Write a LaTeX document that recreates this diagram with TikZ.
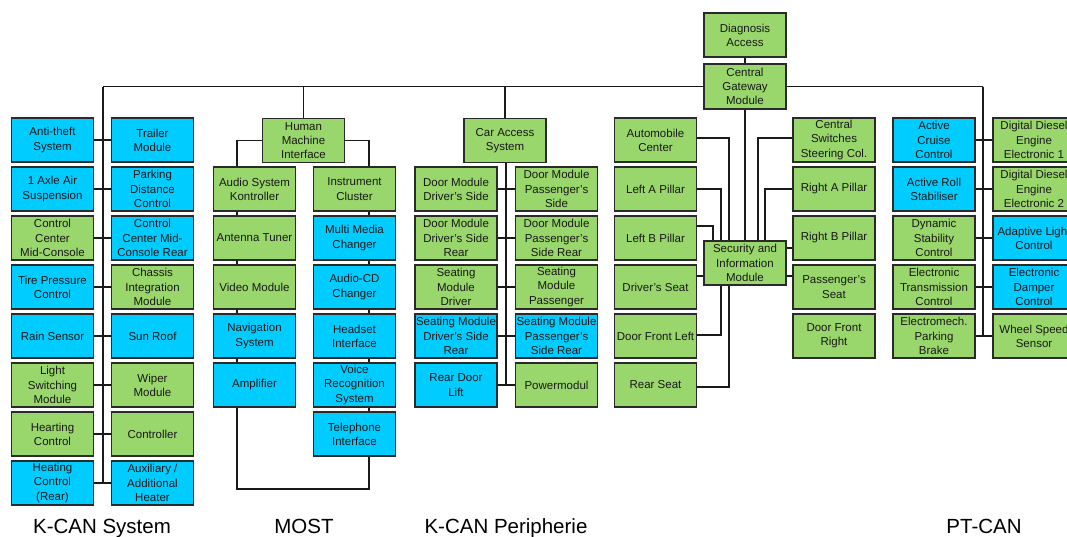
\documentclass[tikz,border=0pt]{standalone}
\usepackage{fontspec}
\setmainfont{Liberation Sans}
\definecolor{grn}{HTML}{99D66B}
\definecolor{blu}{HTML}{00CCFF}
\definecolor{edge}{HTML}{2A2A2A}
\definecolor{wire}{HTML}{1A1A1A}
\begin{document}
\begin{tikzpicture}[x=1pt,y=-1pt,
  box/.style={draw=edge, line width=1.1pt, minimum width=82pt, minimum height=44pt,
    inner sep=0pt, align=center, text=black!90, font=\fontsize{11.5}{14.2}\selectfont},
  gbox/.style={box, fill=grn},
  bbox/.style={box, fill=blu},
  wirestyle/.style={draw=wire, line width=1.2pt},
  lbl/.style={anchor=base, font=\fontsize{20.5}{22}\selectfont, inner sep=0pt}]
\useasboundingbox (0,0) rectangle (1067,536);
\clip (0,0) rectangle (1067,536);

% ---- top
\node[gbox] (diag) at (745,35) {Diagnosis\\Access};
\node[gbox, minimum height=45pt] (gw) at (745,86.5) {Central\\Gateway\\Module};
\coordinate (busL) at (103,86.5);
\coordinate (busR) at (983,86.5);

% ---- K-CAN System
\node[bbox] (k1l) at (52.5,140) {Anti-theft\\System};
\node[bbox] (k1r) at (152.5,140) {Trailer\\Module};
\node[bbox] (k2l) at (52.5,189) {1 Axle Air\\Suspension};
\node[bbox] (k2r) at (152.5,189) {Parking\\Distance\\Control};
\node[gbox] (k3l) at (52.5,238) {Control\\Center\\Mid-Console};
\node[bbox] (k3r) at (152.5,238) {Control\\Center Mid-\\Console Rear};
\node[bbox] (k4l) at (52.5,287) {Tire Pressure\\Control};
\node[gbox] (k4r) at (152.5,287) {Chassis\\Integration\\Module};
\node[bbox] (k5l) at (52.5,336) {Rain Sensor};
\node[bbox] (k5r) at (152.5,336) {Sun Roof};
\node[gbox] (k6l) at (52.5,385) {Light\\Switching\\Module};
\node[gbox] (k6r) at (152.5,385) {Wiper\\Module};
\node[gbox] (k7l) at (52.5,434) {Hearting\\Control};
\node[gbox] (k7r) at (152.5,434) {Controller};
\node[bbox] (k8l) at (52.5,483) {Heating\\Control\\(Rear)};
\node[bbox] (k8r) at (152.5,483) {Auxiliary /\\Additional\\Heater};

% ---- MOST
\node[gbox] (hmi) at (303.5,140.5) {Human\\Machine\\Interface};
\node[gbox] (m2l) at (254.5,189) {Audio System\\Kontroller};
\node[gbox] (m3l) at (254.5,238) {Antenna Tuner};
\node[gbox] (m4l) at (254.5,287) {Video Module};
\node[bbox] (m5l) at (254.5,336) {Navigation\\System};
\node[bbox] (m6l) at (254.5,385) {Amplifier};
\node[gbox] (m2r) at (354.5,189) {Instrument\\Cluster};
\node[bbox] (m3r) at (354.5,238) {Multi Media\\Changer};
\node[bbox] (m4r) at (354.5,287) {Audio-CD\\Changer};
\node[bbox] (m5r) at (354.5,336) {Headset\\Interface};
\node[bbox] (m6r) at (354.5,385) {Voice\\Recognition\\System};
\node[bbox] (m7r) at (354.5,434) {Telephone\\Interface};
\coordinate (mostBot) at (303,489);

% ---- K-CAN Peripherie
\node[gbox] (cas) at (505,140.5) {Car Access\\System};
\node[gbox] (p2l) at (456,189) {Door Module\\Driver's Side};
\node[gbox] (p2r) at (556.5,189) {Door Module\\Passenger's\\Side};
\node[gbox] (p3l) at (456,238) {Door Module\\Driver's Side\\Rear};
\node[gbox] (p3r) at (556.5,238) {Door Module\\Passenger's\\Side Rear};
\node[gbox] (p4l) at (456,287) {Seating\\Module\\Driver};
\node[gbox] (p4r) at (556.5,287) {Seating\\Module\\Passenger};
\node[bbox] (p5l) at (456,336) {Seating Module\\Driver's Side\\Rear};
\node[bbox] (p5r) at (556.5,336) {Seating Module\\Passenger's\\Side Rear};
\node[bbox] (p6l) at (456,385) {Rear Door\\Lift};
\node[gbox] (p6r) at (556.5,385) {Powermodul};

% ---- Security
\node[gbox] (sim) at (745,263) {Security and\\Information\\Module};
\node[gbox] (s1l) at (655.5,140) {Automobile\\Center};
\node[gbox] (s2l) at (655.5,189) {Left A Pillar};
\node[gbox] (s3l) at (655.5,238) {Left B Pillar};
\node[gbox] (s4l) at (655.5,287) {Driver's Seat};
\node[gbox] (s5l) at (655.5,336) {Door Front Left};
\node[gbox] (s6l) at (655.5,385) {Rear Seat};
\node[gbox] (s1r) at (834,140) {Central\\Switches\\Steering Col.};
\node[gbox] (s2r) at (834,189) {Right A Pillar};
\node[gbox] (s3r) at (834,238) {Right B Pillar};
\node[gbox] (s4r) at (834,287) {Passenger's\\Seat};
\node[gbox] (s5r) at (834,336) {Door Front\\Right};

% ---- PT-CAN
\node[bbox] (t1l) at (934,140) {Active\\Cruise\\Control};
\node[bbox] (t2l) at (934,189) {Active Roll\\Stabiliser};
\node[gbox] (t3l) at (934,238) {Dynamic\\Stability\\Control};
\node[gbox] (t4l) at (934,287) {Electronic\\Transmission\\Control};
\node[gbox] (t5l) at (934,336) {Electromech.\\Parking\\Brake};
\node[gbox] (t1r) at (1034,140) {Digital Diesel\\Engine\\Electronic 1};
\node[gbox] (t2r) at (1034,189) {Digital Diesel\\Engine\\Electronic 2};
\node[bbox] (t3r) at (1034,238) {Adaptive Light\\Control};
\node[bbox] (t4r) at (1034,287) {Electronic\\Damper\\Control};
\node[gbox] (t5r) at (1034,336) {Wheel Speed\\Sensor};

% ---- labels
\node[lbl] (lk) at (102,533) {K-CAN System};
\node[lbl] (lm) at (304,533) {MOST};
\node[lbl] (lp) at (506,533) {K-CAN Peripherie};
\node[lbl] (lt) at (984,533) {PT-CAN};

% ---- wires
\begin{scope}[wirestyle]
\draw (diag) -- (gw);
\draw (gw.west) -- (busL);
\draw (gw.east) -- (busR);
% K-CAN system bus
\draw (busL) -- (busL |- k8l.east);
\foreach \r in {1,...,8} { \draw (k\r l.east) -- (k\r r.west); }
% MOST
\draw (hmi.north) -- (hmi.north |- busL);
\draw (hmi.west) -| ([xshift=-17.5pt]m2l.north);
\draw (hmi.east) -| ([xshift=14.5pt]m2r.north);
\foreach \a/\b in {2/3,3/4,4/5,5/6} {
  \draw ([xshift=-17.5pt]m\a l.south) -- ([xshift=-17.5pt]m\b l.north); }
\foreach \a/\b in {2/3,3/4,4/5,5/6,6/7} {
  \draw ([xshift=14.5pt]m\a r.south) -- ([xshift=14.5pt]m\b r.north); }
\draw ([xshift=-17.5pt]m6l.south) |- (mostBot) -| ([xshift=14.5pt]m7r.south);
% K-CAN Peripherie
\draw (cas.north) -- (cas.north |- busL);
\draw ([xshift=1pt]cas.south) -- ([xshift=1pt]cas.south |- p6l.east);
\foreach \r in {2,...,6} { \draw (p\r l.east) -- (p\r r.west); }
% Security
\draw (gw.south) -- (sim.north);
\draw ([yshift=2pt]s1l.east) -| ([xshift=-16pt]sim.north);
\draw (s2l.east) -| ([xshift=-24pt]sim.north);
\draw ([yshift=12pt]s3l.east) -| ([xshift=-32pt]sim.north);
\draw ([yshift=11pt]s4l.east) -- ([yshift=-13pt]sim.west);
\draw ([yshift=1pt]s5l.east) -| ([xshift=-24pt]sim.south);
\draw ([yshift=-2pt]s6l.east) -| ([xshift=-16pt]sim.south);
\draw ([yshift=2pt]s1r.west) -| ([xshift=13pt]sim.north);
\draw (s2r.west) -| ([xshift=20pt]sim.north);
\draw ([yshift=-10pt]s3r.west) -- ([yshift=15pt]sim.east);
\draw ([yshift=11pt]s4r.west) -- ([yshift=-13pt]sim.east);
% PT-CAN
\draw (busR) -- (busR |- t5l.east);
\foreach \r in {1,...,5} { \draw (t\r l.east) -- (t\r r.west); }
\end{scope}
\end{tikzpicture}
\end{document}
